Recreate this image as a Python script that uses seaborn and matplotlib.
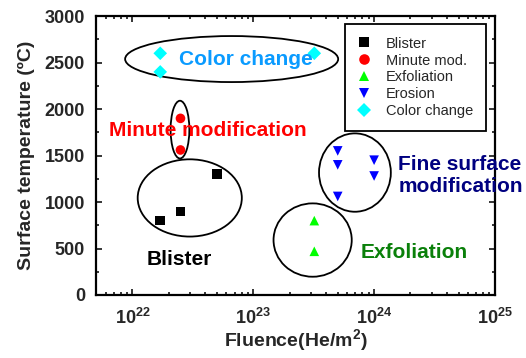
import matplotlib
matplotlib.use("Agg")
import matplotlib.pyplot as plt
from matplotlib.patches import Ellipse
from matplotlib.ticker import MultipleLocator, LogLocator
import numpy as np
import pandas as pd
import seaborn as sns

# Surface modification observed after He irradiation
modes = ["Blister", "Minute mod.", "Exfoliation", "Erosion", "Color change"]
blister_fluence = [1.7e22, 2.5e22, 5e22]
blister_temp = [800, 900, 1300]
minute_fluence = [2.5e22, 2.5e22]
minute_temp = [1900, 1560]
exfoliation_fluence = [3.2e23, 3.2e23]
exfoliation_temp = [800, 470]
erosion_fluence = [5e23, 5e23, 1e24, 1e24, 5e23]
erosion_temp = [1550, 1400, 1450, 1280, 1060]
color_fluence = [1.7e22, 1.7e22, 3.2e23]
color_temp = [2600, 2400, 2600]

x_ticks = [1e22, 1e23, 1e24, 1e25]
x_tick_labels = [r"$\mathdefault{10^{22}}$", r"$\mathdefault{10^{23}}$",
                 r"$\mathdefault{10^{24}}$", r"$\mathdefault{10^{25}}$"]
y_ticks = [0, 500, 1000, 1500, 2000, 2500, 3000]

palette = {"Blister": "#000000", "Minute mod.": "#ff0000", "Exfoliation": "#00ff00",
           "Erosion": "#0000ff", "Color change": "#00ffff"}
markers = {"Blister": "s", "Minute mod.": "o", "Exfoliation": "^",
           "Erosion": "v", "Color change": "D"}

frames = []
for name, fx, ty in zip(modes,
                        [blister_fluence, minute_fluence, exfoliation_fluence, erosion_fluence, color_fluence],
                        [blister_temp, minute_temp, exfoliation_temp, erosion_temp, color_temp]):
    frames.append(pd.DataFrame({"fluence": fx, "temperature": ty, "mode": name}))
df = pd.concat(frames, ignore_index=True)

sns.set_style("ticks")
plt.rcParams["font.family"] = ["Liberation Sans", "DejaVu Sans"]
plt.rcParams["font.weight"] = "bold"
plt.rcParams["axes.labelweight"] = "bold"
plt.rcParams["mathtext.default"] = "regular"

fig = plt.figure(figsize=(5.26, 3.58), dpi=100)
ax = fig.add_axes([0.1825, 0.176, 0.7585, 0.779])

sns.scatterplot(data=df, x="fluence", y="temperature", hue="mode", style="mode",
                hue_order=modes, style_order=modes, palette=palette, markers=markers,
                s=48, linewidth=0, ax=ax, zorder=3)

ax.set_xscale("log")
ax.set_xlim(5e21, 1e25)
ax.set_ylim(0, 3000)
ax.set_xticks(x_ticks)
ax.set_xticklabels(x_tick_labels)
ax.xaxis.set_minor_locator(LogLocator(base=10, subs=np.arange(2, 10), numticks=20))
ax.set_yticks(y_ticks)
ax.yaxis.set_minor_locator(MultipleLocator(250))

for s in ax.spines.values():
    s.set_linewidth(1.6)
    s.set_color("black")
ax.tick_params(which="both", direction="in", top=True, right=True, color="black", width=1.1)
ax.tick_params(which="major", length=4.5)
ax.tick_params(which="minor", length=2.3)
ax.tick_params(axis="y", which="major", labelsize=13, pad=8)
ax.tick_params(axis="x", which="major", labelsize=13, pad=9)
for lab in ax.get_xticklabels() + ax.get_yticklabels():
    lab.set_fontweight("bold")

ax.set_xlabel("Fluence(He/m$^2$)", fontsize=14, fontweight="bold", labelpad=0)
ax.set_ylabel("Surface temperature (ºC)", fontsize=14, fontweight="bold", labelpad=7)

# Grouping ellipses around each regime
groups = [
    (0.340, 0.846, 0.534, 0.165),
    (0.2105, 0.593, 0.047, 0.207),
    (0.235, 0.348, 0.261, 0.277),
    (0.649, 0.439, 0.180, 0.281),
    (0.543, 0.197, 0.196, 0.263),
]
for cx, cy, w, h in groups:
    ax.add_patch(Ellipse((cx, cy), w, h, transform=ax.transAxes, fill=False,
                         edgecolor="black", linewidth=1.3, zorder=2))

# Regime names
ax.text(0.376, 0.846, "Color change", transform=ax.transAxes, ha="center", va="center",
        fontsize=15, fontweight="bold", color="#0a9bff")
ax.text(0.281, 0.591, "Minute modification", transform=ax.transAxes, ha="center", va="center",
        fontsize=15, fontweight="bold", color="#ff0000")
ax.text(0.208, 0.129, "Blister", transform=ax.transAxes, ha="center", va="center",
        fontsize=15, fontweight="bold", color="black")
ax.text(0.797, 0.154, "Exfoliation", transform=ax.transAxes, ha="center", va="center",
        fontsize=15, fontweight="bold", color="#0a800a")
ax.text(0.758, 0.430, "Fine surface\nmodification", transform=ax.transAxes, ha="left", va="center",
        fontsize=15, fontweight="bold", color="#000080", linespacing=1.2, zorder=5)

handles, labels = ax.get_legend_handles_labels()
leg = ax.legend(handles, labels, loc="upper right", bbox_to_anchor=(0.977, 0.971),
                borderaxespad=0, frameon=True, fancybox=False, edgecolor="black",
                prop={"family": "Liberation Sans", "weight": "normal", "size": 10.5},
                handlelength=1.0, handletextpad=1.0, labelspacing=0.2, borderpad=0.85,
                markerscale=1.1)
leg.get_frame().set_linewidth(1.3)
leg.get_frame().set_alpha(1)

fig.savefig("out.png", dpi=100)
